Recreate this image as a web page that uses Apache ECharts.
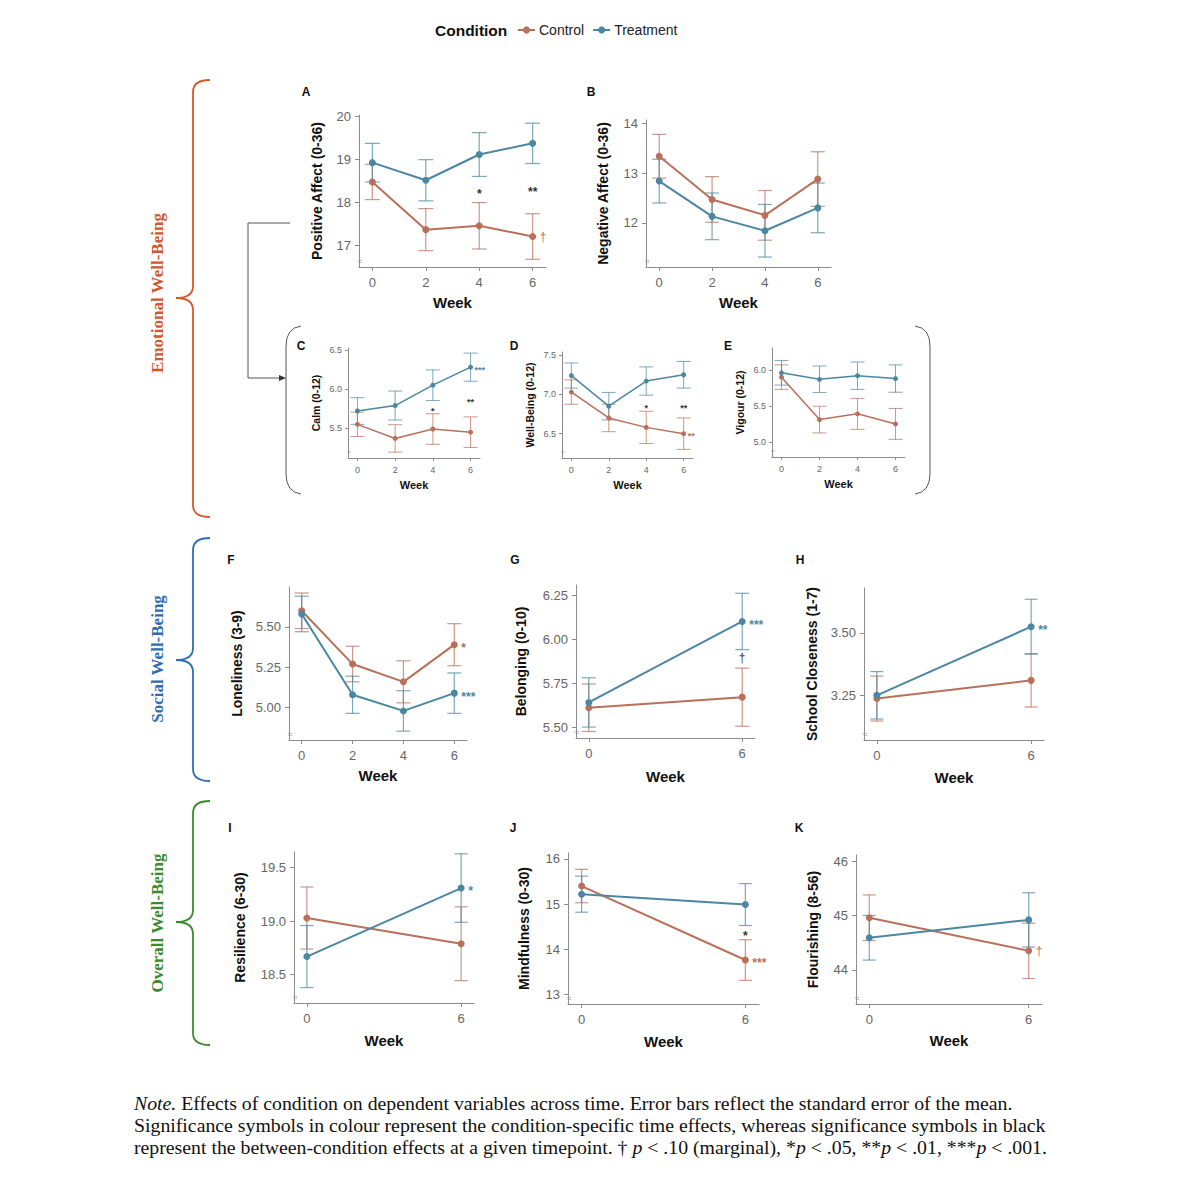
<!DOCTYPE html>
<html><head><meta charset="utf-8">
<script src="https://cdn.jsdelivr.net/npm/echarts@6/dist/echarts.min.js"></script>
<style>html,body{margin:0;padding:0;background:#fff}#c{width:1200px;height:1192px}</style>
</head><body><div id="c"></div>
<script>
// ---------------- DATA ----------------
const weeks4 = [0, 2, 4, 6];
const weeks2 = [0, 6];
const legendNames = ['Control', 'Treatment'];

// A Positive Affect
const posAffCtrl = [18.48, 17.37, 17.46, 17.21];
const posAffCtrlSE = [0.41, 0.49, 0.54, 0.53];
const posAffTrt = [18.93, 18.52, 19.12, 19.38];
const posAffTrtSE = [0.45, 0.48, 0.51, 0.47];
const posAffTicks = [17, 18, 19, 20];
const posAffSig = [[4, 18.29, '*', 'k'], [6, 18.33, '**', 'k'], [6, 17.21, '†', 'c']];
// B Negative Affect
const negAffCtrl = [13.34, 12.47, 12.15, 12.88];
const negAffCtrlSE = [0.44, 0.46, 0.50, 0.55];
const negAffTrt = [12.84, 12.13, 11.84, 12.30];
const negAffTrtSE = [0.44, 0.47, 0.53, 0.50];
const negAffTicks = [12, 13, 14];
const negAffSig = [];
// C Calm
const calmCtrl = [5.55, 5.37, 5.49, 5.45];
const calmCtrlSE = [0.155, 0.175, 0.195, 0.195];
const calmTrt = [5.72, 5.79, 6.05, 6.28];
const calmTrtSE = [0.17, 0.185, 0.195, 0.18];
const calmTicks = [5.5, 6.0, 6.5];
const calmSig = [[4, 5.75, '*', 'k'], [6, 5.87, '**', 'k'], [6, 6.28, '***', 't']];
// D Well-Being
const wbCtrl = [7.03, 6.70, 6.58, 6.50];
const wbCtrlSE = [0.155, 0.175, 0.205, 0.20];
const wbTrt = [7.24, 6.85, 7.17, 7.25];
const wbTrtSE = [0.16, 0.175, 0.18, 0.17];
const wbTicks = [6.5, 7.0, 7.5];
const wbSig = [[4, 6.86, '*', 'k'], [6, 6.86, '**', 'k'], [6, 6.50, '**', 'c']];
// E Vigour
const vigCtrl = [5.90, 5.31, 5.39, 5.25];
const vigCtrlSE = [0.17, 0.185, 0.215, 0.215];
const vigTrt = [5.96, 5.87, 5.92, 5.88];
const vigTrtSE = [0.17, 0.185, 0.19, 0.19];
const vigTicks = [5.0, 5.5, 6.0];
const vigSig = [];
// F Loneliness
const lonCtrl = [5.60, 5.27, 5.16, 5.39];
const lonCtrlSE = [0.11, 0.11, 0.13, 0.13];
const lonTrt = [5.58, 5.08, 4.98, 5.09];
const lonTrtSE = [0.11, 0.115, 0.125, 0.125];
const lonTicks = [5.00, 5.25, 5.50];
const lonSig = [[6, 5.39, '*', 'c'], [6, 5.09, '***', 't']];
// G Belonging
const belCtrl = [5.61, 5.67];
const belCtrlSE = [0.135, 0.165];
const belTrt = [5.64, 6.10];
const belTrtSE = [0.14, 0.16];
const belTicks = [5.50, 5.75, 6.00, 6.25];
const belSig = [[6, 6.10, '***', 't'], [6, 5.89, '†', 'k']];
// H School Closeness
const schCtrl = [3.237, 3.31];
const schCtrlSE = [0.09, 0.107];
const schTrt = [3.25, 3.525];
const schTrtSE = [0.095, 0.11];
const schTicks = [3.25, 3.50];
const schSig = [[6, 3.525, '**', 't']];
// I Resilience
const resCtrl = [19.03, 18.79];
const resCtrlSE = [0.29, 0.345];
const resTrt = [18.67, 19.31];
const resTrtSE = [0.29, 0.32];
const resTicks = [18.5, 19.0, 19.5];
const resSig = [[6, 19.31, '*', 't']];
// J Mindfulness
const minCtrl = [15.40, 13.76];
const minCtrlSE = [0.37, 0.45];
const minTrt = [15.22, 14.99];
const minTrtSE = [0.40, 0.465];
const minTicks = [13, 14, 15, 16];
const minSig = [[6, 14.37, '*', 'k'], [6, 13.76, '***', 'c']];
// K Flourishing
const flCtrl = [44.96, 44.35];
const flCtrlSE = [0.42, 0.51];
const flTrt = [44.59, 44.92];
const flTrtSE = [0.41, 0.50];
const flTicks = [44, 45, 46];
const flSig = [[6, 44.35, '†', 'c']];

// ---------------- LAYOUT ----------------
const FF = '"Liberation Sans", Arial, Helvetica, sans-serif';
const SERIF = '"Liberation Serif", "Times New Roman", serif';
const COL_C = '#b8705a', COL_T = '#4b87a2';
const AX = '#8c8c8c';

const panels = [
  {L:'A', lp:[306,92], box:[359,115,187,152], ymin:16.5, ymax:20.04, ticks:posAffTicks, dec:0, name:'Positive Affect (0-36)', w:weeks4, c:posAffCtrl, cs:posAffCtrlSE, t:posAffTrt, ts:posAffTrtSE, sig:posAffSig, small:false, yGap:35, xGap:28, cap:7.5},
  {L:'B', lp:[591,92], box:[646,120,185,147], ymin:11.11, ymax:14.07, ticks:negAffTicks, dec:0, name:'Negative Affect (0-36)', w:weeks4, c:negAffCtrl, cs:negAffCtrlSE, t:negAffTrt, ts:negAffTrtSE, sig:negAffSig, small:false, yGap:36, xGap:28, cap:7},
  {L:'C', lp:[301,346], box:[348,348,132,110], ymin:5.12, ymax:6.525, ticks:calmTicks, dec:1, name:'Calm (0-12)', w:weeks4, c:calmCtrl, cs:calmCtrlSE, t:calmTrt, ts:calmTrtSE, sig:calmSig, small:true, yGap:27, xGap:21, cap:7},
  {L:'D', lp:[514,346], box:[562,352,131,106], ymin:6.19, ymax:7.54, ticks:wbTicks, dec:1, name:'Well-Being (0-12)', w:weeks4, c:wbCtrl, cs:wbCtrlSE, t:wbTrt, ts:wbTrtSE, sig:wbSig, small:true, yGap:27, xGap:21, cap:7},
  {L:'E', lp:[728,346], box:[772,348,133,109], ymin:4.79, ymax:6.305, ticks:vigTicks, dec:1, name:'Vigour (0-12)', w:weeks4, c:vigCtrl, cs:vigCtrlSE, t:vigTrt, ts:vigTrtSE, sig:vigSig, small:true, yGap:27, xGap:21, cap:7},
  {L:'F', lp:[231,560], box:[289,587,178,153], ymin:4.80, ymax:5.747, ticks:lonTicks, dec:2, name:'Loneliness (3-9)', w:weeks4, c:lonCtrl, cs:lonCtrlSE, t:lonTrt, ts:lonTrtSE, sig:lonSig, small:false, yGap:45, xGap:28, cap:7},
  {L:'G', lp:[515,560], box:[576,585,179,153], ymin:5.438, ymax:6.307, ticks:belTicks, dec:2, name:'Belonging (0-10)', w:weeks2, c:belCtrl, cs:belCtrlSE, t:belTrt, ts:belTrtSE, sig:belSig, small:false, yGap:48, xGap:31, cap:7},
  {L:'H', lp:[800,560], box:[864,588,180,152], ymin:3.071, ymax:3.68, ticks:schTicks, dec:2, name:'School Closeness (1-7)', w:weeks2, c:schCtrl, cs:schCtrlSE, t:schTrt, ts:schTrtSE, sig:schSig, small:false, yGap:45, xGap:30, cap:6.5},
  {L:'I', lp:[230,828], box:[294,852,180,151], ymin:18.236, ymax:19.647, ticks:resTicks, dec:1, name:'Resilience (6-30)', w:weeks2, c:resCtrl, cs:resCtrlSE, t:resTrt, ts:resTrtSE, sig:resSig, small:false, yGap:47, xGap:30, cap:6.5},
  {L:'J', lp:[513,828], box:[568,853,191,151], ymin:12.785, ymax:16.133, ticks:minTicks, dec:0, name:'Mindfulness (0-30)', w:weeks2, c:minCtrl, cs:minCtrlSE, t:minTrt, ts:minTrtSE, sig:minSig, small:false, yGap:37, xGap:30, cap:6.5},
  {L:'K', lp:[799,828], box:[856,855,186,149], ymin:43.37, ymax:46.116, ticks:flTicks, dec:0, name:'Flourishing (8-56)', w:weeks2, c:flCtrl, cs:flCtrlSE, t:flTrt, ts:flTrtSE, sig:flSig, small:false, yGap:36, xGap:29, cap:6.5}
];

const grid = [], xAxis = [], yAxis = [], series = [], graphic = [];

function errSeries(i, weeks, means, ses, color, cap, lw) {
  return {
    type: 'custom', name: 'se', xAxisIndex: i, yAxisIndex: i, silent: true, z: 2,
    data: weeks.map((w, k) => [w, means[k] - ses[k], means[k] + ses[k]]),
    encode: {x: 0, y: [1, 2]},
    renderItem: function (params, api) {
      const lo = api.coord([api.value(0), api.value(1)]);
      const hi = api.coord([api.value(0), api.value(2)]);
      const st = {stroke: color, lineWidth: lw, opacity: 0.72};
      return {type: 'group', children: [
        {type: 'line', shape: {x1: lo[0], y1: lo[1], x2: hi[0], y2: hi[1]}, style: st},
        {type: 'line', shape: {x1: lo[0] - cap, y1: lo[1], x2: lo[0] + cap, y2: lo[1]}, style: st},
        {type: 'line', shape: {x1: hi[0] - cap, y1: hi[1], x2: hi[0] + cap, y2: hi[1]}, style: st}
      ]};
    }
  };
}

panels.forEach((p, i) => {
  const [l, t, w, h] = p.box;
  const s = p.small;
  grid.push({left: l, top: t, width: w, height: h});
  xAxis.push({
    type: 'value', gridIndex: i, min: -0.5, max: 6.5,
    name: 'Week', nameLocation: 'middle', nameGap: p.xGap,
    nameTextStyle: {fontWeight: 'bold', fontSize: s ? 11 : 15, color: '#111', fontFamily: FF},
    axisLine: {onZero: false, lineStyle: {color: AX, width: 1}},
    axisTick: {show: true, length: s ? 3 : 4, customValues: p.w, lineStyle: {color: AX}},
    axisLabel: {customValues: p.w, margin: s ? 7 : 9, fontSize: s ? 9 : 13, color: '#666', fontFamily: FF},
    splitLine: {show: false}
  });
  yAxis.push({
    type: 'value', gridIndex: i, min: p.ymin, max: p.ymax,
    name: p.name, nameLocation: 'middle', nameGap: p.yGap, nameRotate: 90,
    nameTextStyle: {fontWeight: 'bold', fontSize: s ? 10.5 : 14, color: '#111', fontFamily: FF},
    axisLine: {show: true, onZero: false, lineStyle: {color: AX, width: 1}},
    axisTick: {show: true, length: s ? 3 : 4, customValues: p.ticks, lineStyle: {color: AX}},
    axisLabel: {customValues: p.ticks, margin: s ? 6 : 8, fontSize: s ? 9 : 13, color: '#666', fontFamily: FF,
      formatter: v => Number(v).toFixed(p.dec)},
    splitLine: {show: false}
  });
  const lw = s ? 1.5 : 2, ss = s ? 5 : 7, elw = s ? 1 : 1.2;
  series.push(errSeries(i, p.w, p.c, p.cs, COL_C, p.cap, elw));
  series.push(errSeries(i, p.w, p.t, p.ts, COL_T, p.cap, elw));
  series.push({type: 'line', name: 'Control', xAxisIndex: i, yAxisIndex: i, z: 3,
    data: p.w.map((x, k) => [x, p.c[k]]), symbol: 'circle', symbolSize: ss,
    lineStyle: {color: COL_C, width: lw}, itemStyle: {color: COL_C}, emphasis: {disabled: true}});
  series.push({type: 'line', name: 'Treatment', xAxisIndex: i, yAxisIndex: i, z: 3,
    data: p.w.map((x, k) => [x, p.t[k]]), symbol: 'circle', symbolSize: ss,
    lineStyle: {color: COL_T, width: lw}, itemStyle: {color: COL_T}, emphasis: {disabled: true}});
  if (p.sig.length) {
    const sig = p.sig;
    series.push({type: 'custom', name: 'sig', xAxisIndex: i, yAxisIndex: i, z: 4, silent: true,
      data: sig.map(d => [d[0], d[1]]),
      renderItem: function (params, api) {
        const d = sig[params.dataIndex];
        const pt = api.coord([api.value(0), api.value(1)]);
        const colored = d[3] !== 'k';
        const star = d[2].indexOf('*') >= 0;
        const fs = s ? 9 : 12;
        const fill = d[3] === 'c' ? COL_C : (d[3] === 't' ? COL_T : '#333');
        return {type: 'text', x: pt[0] + (colored ? (s ? 4 : 7) : 0), y: pt[1] + (star ? fs * 0.28 : 0),
          style: {text: d[2], fill: fill, font: (star ? 'bold ' : '') + fs + 'px ' + FF,
            align: colored ? 'left' : 'center', verticalAlign: 'middle'}};
      }});
  }
  graphic.push({type: 'text', x: p.lp[0], y: p.lp[1], style: {text: p.L, font: 'bold 12px ' + FF, fill: '#111', align: 'center', verticalAlign: 'middle'}});
  graphic.push({type: 'text', x: l + 1, y: t + h - 6, style: {text: '≈', font: (s ? 6 : 8) + 'px ' + FF, fill: '#999', align: 'center', verticalAlign: 'middle'}});
});

graphic.push({type: 'text', x: 435, y: 30, style: {text: 'Condition', font: 'bold 15.5px ' + FF, fill: '#111', verticalAlign: 'middle'}});

function seg(x1, y1, x2, y2, color, lw) {
  return {type: 'line', shape: {x1, y1, x2, y2}, style: {stroke: color, lineWidth: lw}};
}
function qcurve(x1, y1, cx, cy, x2, y2, color, lw) {
  return {type: 'bezierCurve', shape: {x1, y1, x2, y2, cpx1: cx, cpy1: cy}, style: {stroke: color, lineWidth: lw, fill: null}};
}
function brace(top, bot, mid, color) {
  const lw = 1.8;
  return [
    qcurve(210, top, 193, top, 193, top + 12, color, lw),
    seg(193, top + 12, 193, mid - 12, color, lw),
    qcurve(193, mid - 12, 193, mid, 176, mid, color, lw),
    qcurve(176, mid, 193, mid, 193, mid + 12, color, lw),
    seg(193, mid + 12, 193, bot - 12, color, lw),
    qcurve(193, bot - 12, 193, bot, 210, bot, color, lw)
  ];
}
graphic.push(...brace(80, 517, 298, '#d35a2c'));
graphic.push(...brace(538, 781, 660, '#2f6db5'));
graphic.push(...brace(801, 1045, 922, '#3c8a2e'));
function braceLabel(text, y, color) {
  return {type: 'text', x: 157, y: y, rotation: Math.PI / 2,
    style: {text: text, font: 'bold 17px ' + SERIF, fill: color, align: 'center', verticalAlign: 'middle'}};
}
graphic.push(braceLabel('Emotional Well-Being', 293, '#d2572b'));
graphic.push(braceLabel('Social Well-Being', 659, '#2e6cb3'));
graphic.push(braceLabel('Overall Well-Being', 923, '#3c8a2e'));

// connector from A to C-E
graphic.push({type: 'polyline', shape: {points: [[290, 223], [248, 223], [248, 378], [280, 378]]}, style: {stroke: '#555', lineWidth: 1, fill: null}});
graphic.push({type: 'polygon', shape: {points: [[286, 378], [279, 375], [279, 381]]}, style: {fill: '#333'}});
// parentheses around C-E
graphic.push(qcurve(301, 326, 286, 328, 286, 346, '#555', 1));
graphic.push(seg(286, 346, 286, 474, '#555', 1));
graphic.push(qcurve(286, 474, 286, 492, 301, 494, '#555', 1));
graphic.push(qcurve(915, 326, 930, 328, 930, 346, '#555', 1));
graphic.push(seg(930, 346, 930, 474, '#555', 1));
graphic.push(qcurve(930, 474, 930, 492, 915, 494, '#555', 1));

// note
const NFS = 19.8;
const noteRich = {
  i: {fontStyle: 'italic', fontFamily: SERIF, fontSize: NFS, fill: '#111'},
  n: {fontFamily: SERIF, fontSize: NFS, fill: '#111'}
};
const noteLines = [
  '{i|Note.}{n| Effects of condition on dependent variables across time. Error bars reflect the standard error of the mean.}',
  '{n|Significance symbols in colour represent the condition-specific time effects, whereas significance symbols in black}',
  '{n|represent the between-condition effects at a given timepoint. † }{i|p}{n| < .10 (marginal), *}{i|p}{n| < .05, **}{i|p}{n| < .01, ***}{i|p}{n| < .001.}'
];
noteLines.forEach((txt, k) => {
  graphic.push({type: 'text', x: 134, y: 1103 + k * 22,
    style: {text: txt, rich: noteRich, font: NFS + 'px ' + SERIF, fill: '#111', verticalAlign: 'middle'}});
});

const chart = echarts.init(document.getElementById('c'), null, {renderer: 'svg', width: 1200, height: 1192});
chart.setOption({
  animation: false,
  backgroundColor: '#fff',
  legend: {data: legendNames, left: 512, top: 18, itemWidth: 17, itemHeight: 9, itemGap: 8, selectedMode: false,
    textStyle: {fontSize: 14, color: '#222', fontFamily: FF, padding: [0, 0, 0, -1]}},
  grid: grid, xAxis: xAxis, yAxis: yAxis, series: series, graphic: graphic
});
</script></body></html>
